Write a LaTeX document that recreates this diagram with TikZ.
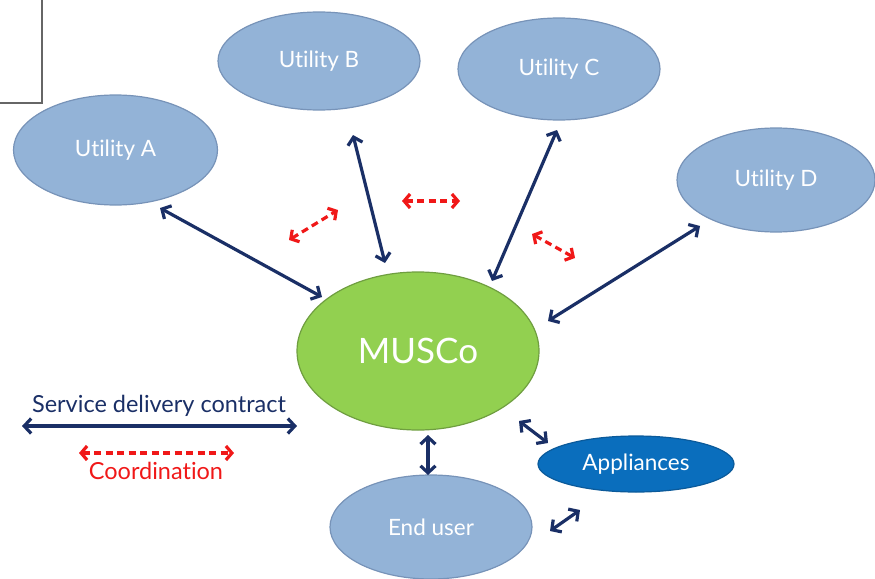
\documentclass[tikz,border=0pt]{standalone}
\usepackage{fontspec}
\setmainfont{Lato}[Ligatures=NoCommon]
\usetikzlibrary{arrows.meta,shapes.geometric}
\definecolor{utilfill}{HTML}{93B3D7}
\definecolor{utilline}{HTML}{7793B8}
\definecolor{muscofill}{HTML}{92D050}
\definecolor{muscoline}{HTML}{6F9E40}
\definecolor{appfill}{HTML}{0A6EBD}
\definecolor{appline}{HTML}{0B5A9A}
\definecolor{navy}{HTML}{1A2F66}
\definecolor{coordred}{HTML}{F01818}
\tikzset{
  blob/.style={ellipse, draw=utilline, fill=utilfill, line width=1.2pt, text=white, font=\fontsize{22.5}{26}\selectfont, inner sep=0pt},
  contract/.style={draw=navy, line width=3.2pt, {Straight Barb[length=7pt,width=15pt]}-{Straight Barb[length=7pt,width=15pt]}},
  coord/.style={draw=coordred, line width=3.2pt, dash pattern=on 7pt off 4.5pt, {Straight Barb[length=6pt,width=14pt]}-{Straight Barb[length=6pt,width=14pt]}}
}
\begin{document}
\begin{tikzpicture}[x=1pt,y=-1pt]
\useasboundingbox (0,0) rectangle (875,578);
% corner frame
\draw[gray!80!black, line width=1.3pt] (42,0) -- (42,103) -- (0,103);
% utilities and parties
\node[blob, minimum width=204pt, minimum height=110pt] (ua) at (115.5,150) {Utility A};
\node[blob, minimum width=202pt, minimum height=98pt] (ub) at (319,61) {Utility B};
\node[blob, minimum width=202pt, minimum height=102pt] (uc) at (559,69) {Utility C};
\node[blob, minimum width=198pt, minimum height=104pt] (ud) at (776,180) {Utility D};
\node[blob, draw=muscoline, fill=muscofill, minimum width=242pt, minimum height=158pt, font=\fontsize{35}{40}\selectfont] (musco) at (418,351) {MUSCo};
\node[blob, draw=appline, fill=appfill, minimum width=196pt, minimum height=56pt] (app) at (636,464) {Appliances};
\node[blob, minimum width=202pt, minimum height=104pt] (eu) at (431,527) {End user};
% arrow end points
\coordinate (a1) at (160,208); \coordinate (a2) at (322,297);
\coordinate (b1) at (353,135); \coordinate (b2) at (385,263);
\coordinate (c1) at (557,130); \coordinate (c2) at (492,281);
\coordinate (d1) at (700,226); \coordinate (d2) at (548,321);
\coordinate (e1) at (428,435); \coordinate (e2) at (428,475);
\coordinate (p1) at (519,421); \coordinate (p2) at (548,443);
\coordinate (q1) at (550,531); \coordinate (q2) at (580,510);
\coordinate (r1) at (289,240); \coordinate (r2) at (338,210);
\coordinate (s1) at (402,201); \coordinate (s2) at (460,201);
\coordinate (t1) at (532,234); \coordinate (t2) at (575,258);
% service delivery contracts
\draw[contract] (a1) -- (a2);
\draw[contract] (b1) -- (b2);
\draw[contract] (c1) -- (c2);
\draw[contract] (d1) -- (d2);
\draw[contract] (e1) -- (e2);
\draw[contract] (p1) -- (p2);
\draw[contract] (q1) -- (q2);
% coordination between utilities
\draw[coord] (r1) -- (r2);
\draw[coord] (s1) -- (s2);
\draw[coord] (t1) -- (t2);
% legend
\node[text=navy, font=\fontsize{23.5}{28}\selectfont] (lc) at (159,406) {Service delivery contract};
\coordinate (l1) at (22,426); \coordinate (l2) at (297,426);
\draw[contract] (l1) -- (l2);
\coordinate (m1) at (79,453); \coordinate (m2) at (234,453);
\draw[coord] (m1) -- (m2);
\node[text=coordred, font=\fontsize{23.5}{28}\selectfont] (lr) at (156,471) {Coordination};
\end{tikzpicture}
\end{document}
